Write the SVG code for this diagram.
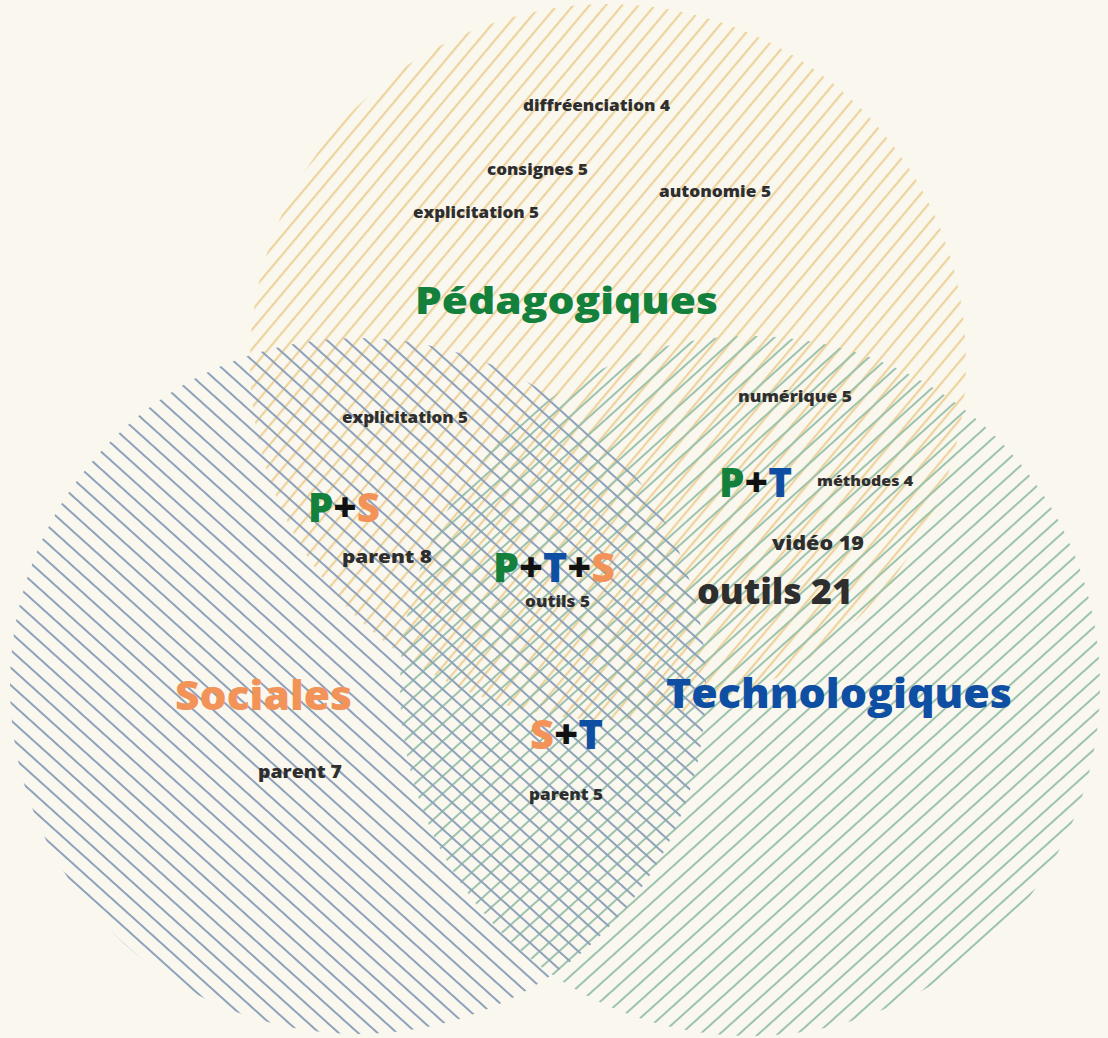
<svg xmlns="http://www.w3.org/2000/svg" width="1108" height="1038" viewBox="0 0 1108 1038">
<defs>
<style>
.t{font-family:"Open Sans","Noto Sans","Liberation Sans",sans-serif;font-weight:800;fill:#2e2e2e}
.g{fill:#13803c}.o{fill:#f2935a}.b{fill:#0f4fa3}.k{fill:#111}
</style>
<pattern id="hy" patternUnits="userSpaceOnUse" width="12.5" height="12" patternTransform="rotate(40)">
<line x1="5" y1="0" x2="5" y2="12" stroke="#edd096" stroke-width="2"/>
</pattern>
<pattern id="hb" patternUnits="userSpaceOnUse" width="13" height="12" patternTransform="rotate(-48)">
<line x1="5" y1="0" x2="5" y2="12" stroke="#8ea2bb" stroke-width="2"/>
</pattern>
<pattern id="hg" patternUnits="userSpaceOnUse" width="13" height="12" patternTransform="rotate(48)">
<line x1="2" y1="0" x2="2" y2="12" stroke="#9cc3ad" stroke-width="2"/>
</pattern>
</defs>
<rect width="1108" height="1038" fill="#f9f7ee"/>
<g id="circle-pedagogiques"><circle cx="608" cy="362" r="358" fill="url(#hy)"/></g>
<g id="circle-technologiques"><circle cx="750" cy="686" r="350" fill="url(#hg)"/></g>
<g id="circle-sociales"><circle cx="358" cy="686" r="348" fill="url(#hb)"/></g>
<g id="connectors"></g>
<g id="labels-pedagogiques">
<text class="t" x="523" y="111" font-size="16" textLength="147" lengthAdjust="spacingAndGlyphs">diffréenciation 4</text>
<text class="t" x="487" y="175" font-size="16" textLength="101" lengthAdjust="spacingAndGlyphs">consignes 5</text>
<text class="t" x="659" y="197" font-size="16" textLength="112" lengthAdjust="spacingAndGlyphs">autonomie 5</text>
<text class="t" x="413" y="218" font-size="16" textLength="126" lengthAdjust="spacingAndGlyphs">explicitation 5</text>
<text class="t g" x="415" y="314" font-size="37" textLength="303" lengthAdjust="spacingAndGlyphs">Pédagogiques</text>
</g>
<g id="labels-ps">
<text class="t" x="342" y="423" font-size="16" textLength="126" lengthAdjust="spacingAndGlyphs">explicitation 5</text>
<text class="t" x="308" y="522" font-size="41" textLength="72" lengthAdjust="spacingAndGlyphs"><tspan class="g">P</tspan><tspan class="k">+</tspan><tspan class="o">S</tspan></text>
<text class="t" x="342" y="563" font-size="18" textLength="90" lengthAdjust="spacingAndGlyphs">parent 8</text>
</g>
<g id="labels-pts">
<text class="t" x="493" y="582" font-size="40" textLength="122" lengthAdjust="spacingAndGlyphs"><tspan class="g">P</tspan><tspan class="k">+</tspan><tspan class="b">T</tspan><tspan class="k">+</tspan><tspan class="o">S</tspan></text>
<text class="t" x="525" y="607" font-size="16" textLength="65" lengthAdjust="spacingAndGlyphs">outils 5</text>
</g>
<g id="labels-pt">
<text class="t" x="738" y="402" font-size="16" textLength="114" lengthAdjust="spacingAndGlyphs">numérique 5</text>
<text class="t" x="719" y="497" font-size="41" textLength="73" lengthAdjust="spacingAndGlyphs"><tspan class="g">P</tspan><tspan class="k">+</tspan><tspan class="b">T</tspan></text>
<text class="t" x="817" y="486" font-size="14" textLength="96" lengthAdjust="spacingAndGlyphs">méthodes 4</text>
<text class="t" x="772" y="550" font-size="19" textLength="92" lengthAdjust="spacingAndGlyphs">vidéo 19</text>
<text class="t" x="697" y="604" font-size="35" textLength="156" lengthAdjust="spacingAndGlyphs">outils 21</text>
</g>
<g id="labels-technologiques">
<text class="t b" x="666" y="708" font-size="40" textLength="346" lengthAdjust="spacingAndGlyphs">Technologiques</text>
</g>
<g id="labels-sociales">
<text class="t o" x="175" y="710" font-size="40" textLength="177" lengthAdjust="spacingAndGlyphs">Sociales</text>
<text class="t" x="258" y="778" font-size="17" textLength="84" lengthAdjust="spacingAndGlyphs">parent 7</text>
</g>
<g id="labels-st">
<text class="t" x="530" y="749" font-size="41" textLength="73" lengthAdjust="spacingAndGlyphs"><tspan class="o">S</tspan><tspan class="k">+</tspan><tspan class="b">T</tspan></text>
<text class="t" x="529" y="800" font-size="16" textLength="74" lengthAdjust="spacingAndGlyphs">parent 5</text>
</g>
</svg>
